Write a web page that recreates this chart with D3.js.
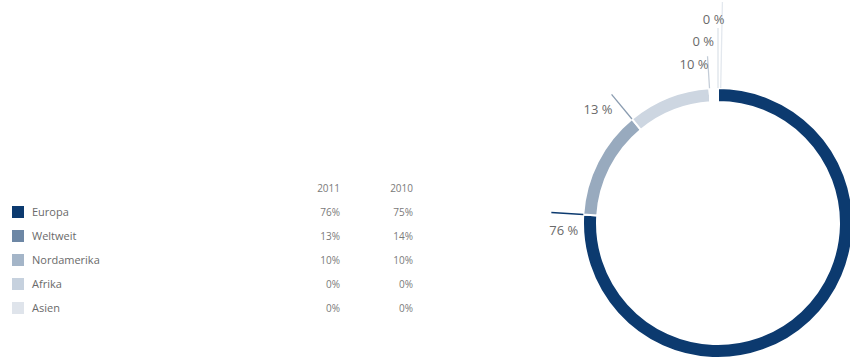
<!DOCTYPE html>
<html>
<head>
<meta charset="utf-8">
<script src="https://cdn.jsdelivr.net/npm/d3@7"></script>
<style>
  html, body { margin: 0; padding: 0; background: #fff; }
  svg { display: block; font-family: "Open Sans", "Noto Sans", sans-serif; }
</style>
</head>
<body>
<svg id="chart" width="850" height="360"></svg>
<script>
// Regions and their shares (percent)
const regions = ["Europa", "Weltweit", "Nordamerika", "Afrika", "Asien"];
const share2011 = [76, 13, 10, 0, 0];
const share2010 = [75, 14, 10, 0, 0];
const years = ["2011", "2010"];

// Palette: legend swatches and ring segments
const legendColors = ["#0c3a6f", "#6d87a5", "#a4b5c8", "#c6d1de", "#dfe4eb"];
const ringColors   = ["#0c3a6f", "#98aabe", "#cdd6e1", "#dde3ea", "#e6eaef"];

const svg = d3.select("#chart");
const fmt = v => v + "%";

// ---------- Legend table ----------
const rowY = d3.scaleBand().domain(regions).range([200, 320]).paddingInner(0);
const colX = d3.scaleOrdinal().domain(years).range([340, 413]);

const legend = svg.append("g");
legend.selectAll("text.year").data(years).join("text")
  .attr("class", "year")
  .attr("x", d => colX(d)).attr("y", 192)
  .attr("text-anchor", "end")
  .attr("font-size", 10).attr("fill", "#7a7a7a")
  .text(d => d);

const rows = legend.selectAll("g.row").data(regions).join("g")
  .attr("class", "row")
  .attr("transform", d => `translate(0,${rowY(d) + rowY.bandwidth() / 2})`);

rows.append("rect")
  .attr("x", 12).attr("y", -6).attr("width", 12).attr("height", 12)
  .attr("fill", (d, i) => legendColors[i]);

rows.append("text")
  .attr("x", 32).attr("y", 4)
  .attr("font-size", 11).attr("fill", "#6a6a6a")
  .text(d => d);

rows.append("text")
  .attr("x", colX("2011")).attr("y", 4)
  .attr("text-anchor", "end").attr("font-size", 10).attr("fill", "#7a7a7a")
  .text((d, i) => fmt(share2011[i]));

rows.append("text")
  .attr("x", colX("2010")).attr("y", 4)
  .attr("text-anchor", "end").attr("font-size", 10).attr("fill", "#7a7a7a")
  .text((d, i) => fmt(share2010[i]));

// ---------- Donut (2011) ----------
const cx = 718, cy = 223, outerR = 135, innerR = 121;
const total = 100;
const pie = d3.pie().sort(null).value(d => d)
  .startAngle(0)
  .endAngle(2 * Math.PI * d3.sum(share2011) / total);
const arcs = pie(share2011);
const arc = d3.arc().innerRadius(innerR).outerRadius(outerR);

const ring = svg.append("g").attr("transform", `translate(${cx},${cy})`);
ring.selectAll("path").data(arcs).join("path")
  .attr("d", arc)
  .attr("fill", (d, i) => ringColors[i])
  .attr("stroke", "#fff").attr("stroke-width", 2);

// Leader lines at each segment's closing edge, labels at their outer end
const lineLen = [32, 32, 32, 60, 86];
const labelDx = [27, 1, 1, -4, 2];
const labelDy = [22, 20, 13, 18, 22];
const lineColors = ["#0c3a6f", "#8a9cb0", "#c3ccd7", "#dde3ea", "#e3e8ee"];

arcs.forEach((d, i) => {
  // zero-size slices share the closing angle; spread them across the gap at the top
  const a = share2011[i] === 0 ? 2 * Math.PI + 0.02 * (i - 3) : d.endAngle;
  const sx = Math.sin(a), sy = -Math.cos(a);
  const x1 = sx * outerR, y1 = sy * outerR;
  const x2 = sx * (outerR + lineLen[i]), y2 = sy * (outerR + lineLen[i]);
  ring.append("line")
    .attr("x1", x1).attr("y1", y1).attr("x2", x2).attr("y2", y2)
    .attr("stroke", lineColors[i]).attr("stroke-width", 1.3);
  ring.append("text")
    .attr("x", x2 + labelDx[i]).attr("y", y2 + labelDy[i])
    .attr("text-anchor", "end")
    .attr("font-size", 13).attr("fill", "#6a6a6a")
    .text(share2011[i] + " %");
});
</script>
</body>
</html>
